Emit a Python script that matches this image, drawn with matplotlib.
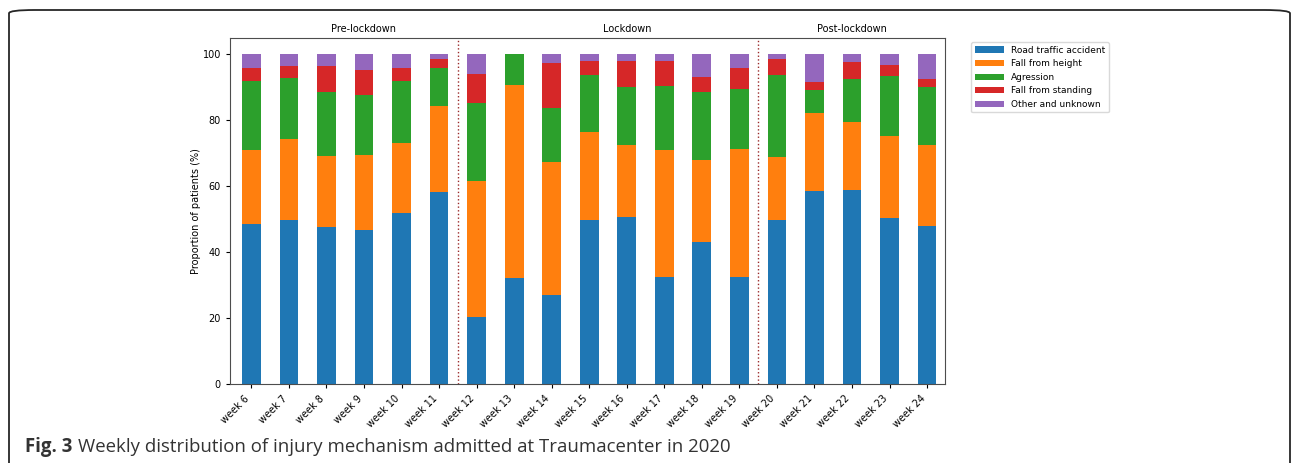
import matplotlib
matplotlib.use("Agg")
import matplotlib.pyplot as plt
from matplotlib.patches import FancyBboxPatch
import numpy as np

weeks = ["week %d" % w for w in range(6, 25)]
categories = ["Road traffic accident", "Fall from height", "Agression",
              "Fall from standing", "Other and unknown"]
colors = ["#1f77b4", "#ff7f0e", "#2ca02c", "#d62728", "#9467bd"]

road = [48.6, 49.8, 47.7, 46.8, 51.9, 58.3, 20.5, 32.2, 27.1, 49.8,
        50.7, 32.5, 43.1, 32.5, 49.8, 58.6, 58.9, 50.4, 48.0]
height = [22.4, 24.5, 21.5, 22.7, 21.2, 26.0, 41.1, 58.5, 40.3, 26.7,
          21.8, 38.5, 24.9, 38.8, 19.0, 23.6, 20.6, 24.8, 24.5]
agression = [20.8, 18.5, 19.4, 18.1, 18.7, 11.5, 23.6, 9.3, 16.4, 17.1,
             17.5, 19.4, 20.6, 18.1, 24.8, 7.0, 12.9, 18.2, 17.5]
standing = [4.0, 3.7, 7.9, 7.6, 4.0, 2.7, 8.8, 0.0, 13.5, 4.3,
            7.9, 7.5, 4.4, 6.4, 4.9, 2.4, 5.3, 3.3, 2.4]
other = [4.2, 3.5, 3.5, 4.8, 4.2, 1.5, 6.0, 0.0, 2.7, 2.1,
         2.1, 2.1, 7.0, 4.2, 1.5, 8.4, 2.3, 3.3, 7.6]

periods = ["Pre-lockdown", "Lockdown", "Post-lockdown"]
period_pos = [3, 10, 16]
breaks = [5.5, 13.5]

fig = plt.figure(figsize=(12.92, 4.63), dpi=100)
ax = fig.add_axes([0.178, 0.170, 0.5535, 0.7486])

x = np.arange(len(weeks))
bottom = np.zeros(len(weeks))
for vals, lab, col in zip([road, height, agression, standing, other], categories, colors):
    ax.bar(x, vals, width=0.5, bottom=bottom, color=col, label=lab)
    bottom += np.array(vals)

for b in breaks:
    ax.axvline(b, color="#9b2a2a", linestyle=":", linewidth=1)

for name, p in zip(periods, period_pos):
    ax.text(p, 1.01, name, transform=ax.get_xaxis_transform(),
            ha="center", va="bottom", fontsize=7)

ax.set_xlim(-0.57, 18.48)
ax.set_ylim(0, 105)
ax.set_yticks([0, 20, 40, 60, 80, 100])
ax.set_xticks(x)
ax.set_xticklabels(weeks, rotation=45, ha="right", fontsize=7)
ax.tick_params(axis="y", labelsize=7, length=3)
ax.tick_params(axis="x", length=3)
ax.set_ylabel("Proportion of patients (%)", fontsize=7)
ax.yaxis.set_label_coords(-0.04, 0.5)
for s in ax.spines.values():
    s.set_color("0.3")

ax.legend(loc="upper left", bbox_to_anchor=(1.03, 1.0), fontsize=6.5,
          handlelength=3.2, framealpha=1, edgecolor="0.85")

# rounded frame around the figure, open at the bottom
frame = FancyBboxPatch((9 / 1292, -0.2), 1281 / 1292, 1.2 - 10 / 463,
                       boxstyle="round,pad=0,rounding_size=0.02",
                       transform=fig.transFigure, fill=False,
                       edgecolor="0.15", linewidth=1.3, clip_on=False,
                       mutation_aspect=463 / 1292)
fig.patches.append(frame)

# caption
cap_y = 1 - 452 / 463
t1 = fig.text(25 / 1292, cap_y, "Fig. 3", fontsize=13.4, fontweight="bold",
              color="#333333", family="Open Sans", va="baseline")
fig.canvas.draw()
bb = t1.get_window_extent()
fig.text((bb.x1 + 6) / 1292, cap_y,
         "Weekly distribution of injury mechanism admitted at Traumacenter in 2020",
         fontsize=13.4, color="#333333", family="Open Sans", va="baseline")

fig.savefig("out.png", dpi=100)
